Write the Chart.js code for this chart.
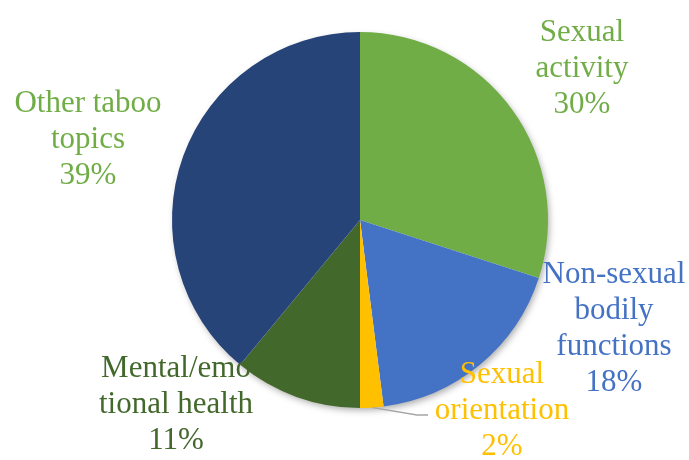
<!DOCTYPE html>
<html>
<head>
<meta charset="utf-8">
<script src="https://cdn.jsdelivr.net/npm/chart.js@4"></script>
<style>
  body { margin: 0; background: #ffffff; }
</style>
</head>
<body>
<canvas id="pieChart" width="689" height="460"></canvas>
<script>
// Data
var categories = ['Sexual activity', 'Non-sexual bodily functions', 'Sexual orientation', 'Mental/emotional health', 'Other taboo topics'];
var shares = [30, 18, 2, 11, 39];
var labelLines = [
    ['Sexual', 'activity'],
    ['Non-sexual', 'bodily', 'functions'],
    ['Sexual', 'orientation'],
    ['Mental/emo', 'tional health'],
    ['Other taboo', 'topics']
];

var sliceColors = ['#70AD47', '#4472C4', '#FFC000', '#43682B', '#264478'];
var textColors = ['#70AD47', '#4472C4', '#FFC000', '#43682B', '#70AD47'];

// label anchors relative to the pie centre (px), first baseline
var labelOffsets = [
    [222, -179],
    [254, 63],
    [142, 163],
    [-184, 157],
    [-272, -108]
];

// soft shadow under the whole pie
var pieShadow = {
    id: 'pieShadow',
    beforeDatasetsDraw: function (chart) {
        var arc = chart.getDatasetMeta(0).data[0];
        var ctx = chart.ctx;
        ctx.save();
        ctx.shadowColor = 'rgba(0,0,0,0.35)';
        ctx.shadowBlur = 7;
        ctx.shadowOffsetX = 2;
        ctx.shadowOffsetY = 3;
        ctx.fillStyle = '#ffffff';
        ctx.beginPath();
        ctx.arc(arc.x, arc.y, arc.outerRadius - 1, 0, Math.PI * 2);
        ctx.fill();
        ctx.restore();
    }
};

// outside labels like the Excel data labels
var outsideLabels = {
    id: 'outsideLabels',
    afterDatasetsDraw: function (chart) {
        var meta = chart.getDatasetMeta(0);
        var ctx = chart.ctx;
        var cx = meta.data[0].x;
        var cy = meta.data[0].y;
        var r = meta.data[0].outerRadius;

        // leader line for the small slice
        var small = meta.data[2];
        var mid = (small.startAngle + small.endAngle) / 2;
        ctx.save();
        ctx.strokeStyle = '#A5A5A5';
        ctx.lineWidth = 1.5;
        ctx.beginPath();
        ctx.moveTo(cx + Math.cos(mid) * r + 1, cy + Math.sin(mid) * r);
        ctx.lineTo(cx + 57, cy + 195);
        ctx.lineTo(cx + 68, cy + 195);
        ctx.stroke();
        ctx.restore();

        ctx.save();
        ctx.font = '31px "Liberation Serif", "Times New Roman", serif';
        ctx.textAlign = 'center';
        ctx.textBaseline = 'alphabetic';
        var lineH = 36;
        for (var i = 0; i < categories.length; i++) {
            var lines = labelLines[i].concat([shares[i] + '%']);
            var x = cx + labelOffsets[i][0];
            var y = cy + labelOffsets[i][1];
            ctx.fillStyle = textColors[i];
            for (var j = 0; j < lines.length; j++) {
                ctx.fillText(lines[j], x, y + j * lineH);
            }
        }
        ctx.restore();
    }
};

var chart = new Chart(document.getElementById('pieChart'), {
    type: 'pie',
    data: {
        labels: categories,
        datasets: [{
            data: shares,
            backgroundColor: sliceColors,
            borderWidth: 0
        }]
    },
    options: {
        responsive: false,
        animation: false,
        layout: {
            padding: { left: 172, right: 141, top: 32, bottom: 52 }
        },
        plugins: {
            legend: { display: false },
            tooltip: { enabled: false }
        }
    },
    plugins: [pieShadow, outsideLabels]
});
</script>
</body>
</html>
